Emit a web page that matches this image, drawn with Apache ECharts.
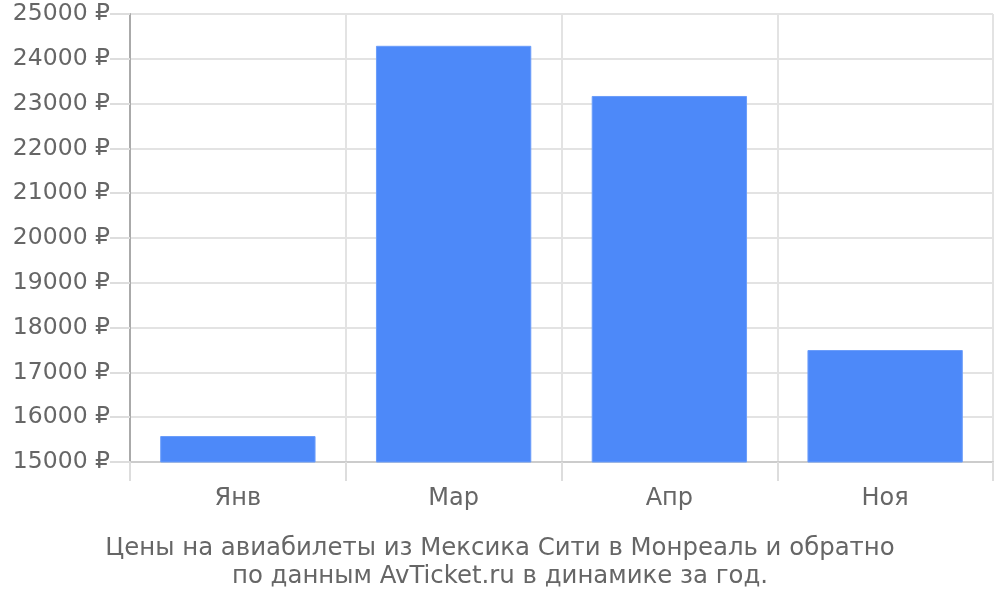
<!DOCTYPE html>
<html>
<head>
<meta charset="utf-8">
<script src="https://cdn.jsdelivr.net/npm/echarts@6/dist/echarts.min.js"></script>
<style>
  html, body { margin: 0; padding: 0; background: #fff; }
  #chart { width: 1000px; height: 600px; }
</style>
</head>
<body>
<div id="chart"></div>
<script>
var months = ['Янв', 'Мар', 'Апр', 'Ноя']
var prices = [15580, 24290, 23170, 17500]
var yTicks = {min: 15000, max: 25000, step: 1000}
var titleLines = ['Цены на авиабилеты из Мексика Сити в Монреаль и обратно', 'по данным AvTicket.ru в динамике за год.']

var myChart = echarts.init(document.getElementById('chart'), null, {renderer: 'canvas'})

var option = {
  animation: false,
  textStyle: {fontFamily: 'DejaVu Sans'},
  title: {
    text: titleLines.join('\n'),
    left: 'center',
    top: 530,
    textStyle: {color: '#666', fontSize: 24.4, fontWeight: 'normal', lineHeight: 28, fontFamily: 'DejaVu Sans'}
  },
  grid: {left: 130, right: 7, top: 14, bottom: 138, containLabel: false},
  xAxis: {
    type: 'category',
    data: months,
    boundaryGap: true,
    axisLine: {lineStyle: {color: '#ccc', width: 2}},
    axisTick: {show: true, length: 19, lineStyle: {color: '#ddd', width: 2}},
    axisLabel: {color: '#666', fontSize: 24, margin: 25},
    splitLine: {show: true, lineStyle: {color: '#e3e3e3', width: 2}}
  },
  yAxis: {
    type: 'value',
    min: yTicks.min,
    max: yTicks.max,
    interval: yTicks.step,
    axisLine: {show: true, lineStyle: {color: '#aaa', width: 2}},
    axisTick: {show: true, length: 20, lineStyle: {color: '#ddd', width: 2}},
    axisLabel: {
      color: '#666', fontSize: 23.5, margin: 20,
      formatter: function (v) { return v + ' ₽' }
    },
    splitLine: {show: true, lineStyle: {color: '#e3e3e3', width: 2}}
  },
  series: [{
    type: 'bar',
    data: prices,
    barWidth: '72%',
    itemStyle: {color: '#4d89f9', borderColor: '#6b9dfa', borderWidth: 1}
  }]
}

myChart.setOption(option)
</script>
</body>
</html>
